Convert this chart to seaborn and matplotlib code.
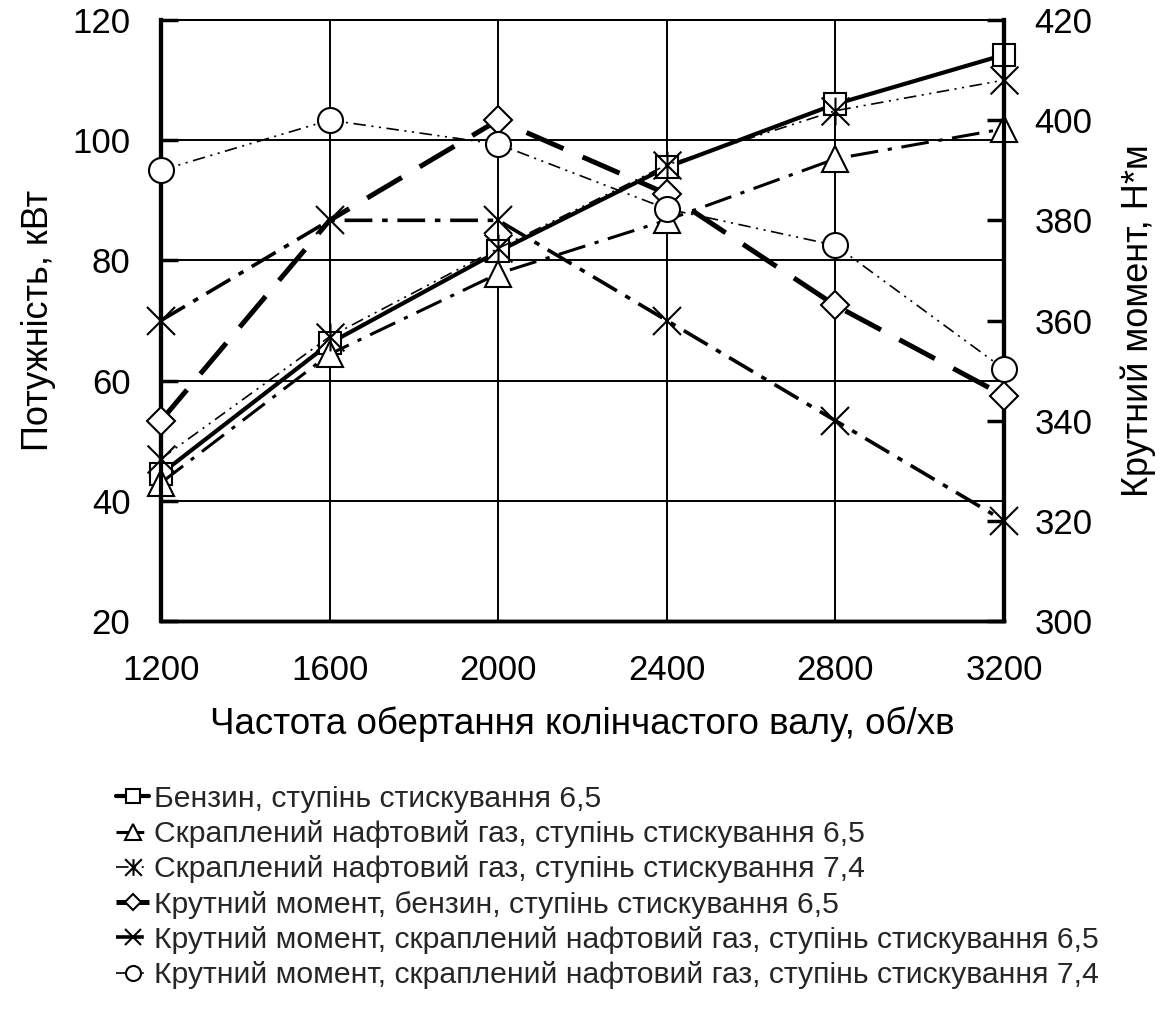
import matplotlib
matplotlib.use("Agg")
import matplotlib.pyplot as plt
from matplotlib.path import Path
import seaborn as sns
import pandas as pd

# ---------------- data ----------------
rpm = [1200, 1600, 2000, 2400, 2800, 3200]
power_petrol_65 = [44.5, 66.2, 81.5, 95.5, 106.0, 114.2]
power_lpg_65 = [43.0, 64.4, 77.8, 86.7, 96.9, 101.9]
power_lpg_74 = [47.0, 67.3, 82.0, 95.9, 104.9, 110.0]
torque_petrol_65 = [340.0, 380.0, 400.0, 385.3, 363.0, 345.0]
torque_lpg_65 = [360.0, 380.0, 380.0, 360.0, 340.0, 320.0]
torque_lpg_74 = [390.0, 400.0, 395.2, 382.3, 375.0, 350.3]

labels = [
    "Бензин, ступінь стискування 6,5",
    "Скраплений нафтовий газ, ступінь стискування 6,5",
    "Скраплений нафтовий газ, ступінь стискування 7,4",
    "Крутний момент, бензин, ступінь стискування 6,5",
    "Крутний момент, скраплений нафтовий газ, ступінь стискування 6,5",
    "Крутний момент, скраплений нафтовий газ, ступінь стискування 7,4",
]
x_ticks = [1200, 1600, 2000, 2400, 2800, 3200]
left_ticks = [20, 40, 60, 80, 100, 120]
right_ticks = [300, 320, 340, 360, 380, 400, 420]
x_label = "Частота обертання колінчастого валу, об/хв"
left_label = "Потужність, кВт"
right_label = "Крутний момент, Н*м"

# ---------------- style ----------------
sns.set_theme(style="white")
plt.rcParams["font.family"] = ["Liberation Sans", "DejaVu Sans"]
plt.rcParams["lines.scale_dashes"] = False

fig = plt.figure(figsize=(11.66, 10.14), dpi=100)
L, R, T, B = 161 / 1166, 1004 / 1166, 1 - 20 / 1014, 1 - 621 / 1014
ax = fig.add_axes([L, B, R - L, T - B])
ax2 = ax.twinx()

asterisk = Path(
    [(-1, -1), (1, 1), (-1, 1), (1, -1), (0, -1), (0, 1)],
    [Path.MOVETO, Path.LINETO, Path.MOVETO, Path.LINETO, Path.MOVETO, Path.LINETO],
)

common = dict(color="black", markeredgecolor="black", clip_on=False, zorder=4)

df = pd.DataFrame({
    "rpm": rpm,
    "p1": power_petrol_65, "p2": power_lpg_65, "p3": power_lpg_74,
    "t1": torque_petrol_65, "t2": torque_lpg_65, "t3": torque_lpg_74,
})

sns.lineplot(data=df, x="rpm", y="p1", ax=ax, label=labels[0], linewidth=3.0,
             linestyle="-", marker="s", markersize=16, markerfacecolor="white",
             markeredgewidth=1.5, **common)
sns.lineplot(data=df, x="rpm", y="p2", ax=ax, label=labels[1], linewidth=2.2,
             linestyle=(0, (20, 7, 3, 7)), marker="^", markersize=19,
             markerfacecolor="white", markeredgewidth=1.5, **common)
sns.lineplot(data=df, x="rpm", y="p3", ax=ax, label=labels[2], linewidth=1.2,
             linestyle=(0, (9, 4, 1.5, 4, 1.5, 4)), marker=asterisk, markersize=20,
             markerfacecolor="none", markeredgewidth=1.5, **common)

sns.lineplot(data=df, x="rpm", y="t1", ax=ax2, label=labels[3], linewidth=3.6,
             linestyle=(0, (29, 15)), marker="D", markersize=14,
             markerfacecolor="white", markeredgewidth=1.5,
             markevery=[0, 2, 3, 4, 5], **common)
sns.lineplot(data=df, x="rpm", y="t2", ax=ax2, label=labels[4], linewidth=2.6,
             linestyle=(0, (20, 7, 4, 7)), marker="x", markersize=20,
             markeredgewidth=1.5, **common)
sns.lineplot(data=df, x="rpm", y="t3", ax=ax2, label=labels[5], linewidth=1.2,
             linestyle=(0, (9, 4, 1.5, 4, 1.5, 4)), marker="o", markersize=18,
             markerfacecolor="white", markeredgewidth=1.5, **common)

for a in (ax, ax2):
    lg = a.get_legend()
    if lg is not None:
        lg.remove()

# axes
ax.set_xlim(1200, 3200)
ax.set_ylim(20, 120)
ax2.set_ylim(300, 420)
ax.set_xticks(x_ticks)
ax.set_yticks(left_ticks)
ax2.set_yticks(right_ticks)
ax.grid(True, color="black", linewidth=1.4)
ax.set_axisbelow(True)

ax.tick_params(axis="both", direction="in", length=12, width=2.5, labelsize=25,
               pad=22, colors="black")
ax.tick_params(axis="x", pad=24)
ax2.tick_params(axis="y", direction="in", length=12, width=2.5, labelsize=25,
                pad=22, colors="black")

ax.set_xlabel(x_label, fontsize=26.5, labelpad=14, color="black")
ax.set_ylabel(left_label, fontsize=26, labelpad=12, color="black")
ax2.set_ylabel(right_label, fontsize=26, labelpad=20, color="black")

for a in (ax, ax2):
    for s in a.spines.values():
        s.set_visible(True)
        s.set_color("black")
    a.spines["left"].set_linewidth(3)
    a.spines["right"].set_linewidth(3)
    a.spines["bottom"].set_linewidth(2.5)
    a.spines["top"].set_linewidth(1.4)

# legend
h1, l1 = ax.get_legend_handles_labels()
h2, l2 = ax2.get_legend_handles_labels()
fig.legend(h1 + h2, l1 + l2, loc="upper left",
           bbox_to_anchor=(116 / 1166, 1 - 785 / 1014), frameon=False,
           fontsize=21.7, handlelength=1.1, handletextpad=0.15, labelspacing=0.24,
           markerscale=0.6, borderpad=0, borderaxespad=0)

fig.savefig("out.png", dpi=100, facecolor="white")
